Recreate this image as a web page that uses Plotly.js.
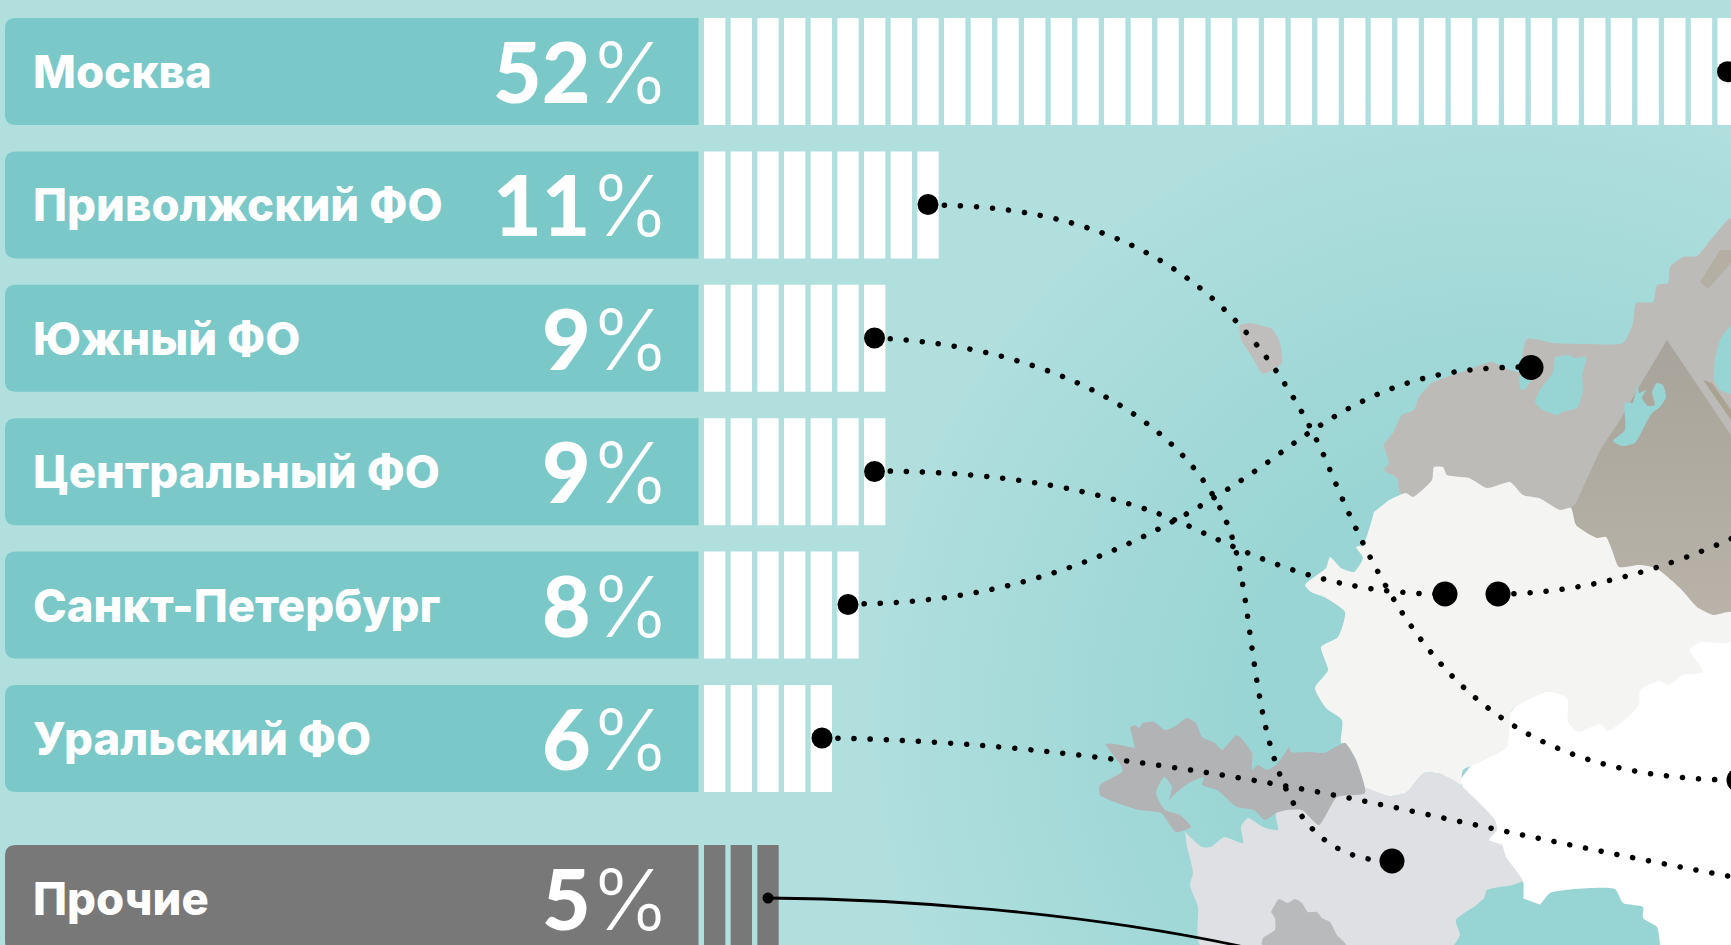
<!DOCTYPE html>
<html lang="ru">
<head>
<meta charset="utf-8">
<title>Распределение по регионам</title>
<script src="https://cdn.plot.ly/plotly-3.0.1.min.js"></script>
<style>
  html, body { margin: 0; padding: 0; width: 1731px; height: 945px; overflow: hidden; }
  body { background: radial-gradient(circle 640px at 1500px 720px, #97d4d3 0%, #99d5d4 40%, #b0dfde 100%) #b0dfde; }
  #chart { width: 1731px; height: 945px; }
  /* dotted leaders: near-zero dashes with round caps become dots */
  .shapelayer path { stroke-linecap: round; }
</style>
</head>
<body>
<div id="chart"></div>
<script>
// Regions and their shares
const regions = ['Москва', 'Приволжский ФО', 'Южный ФО', 'Центральный ФО', 'Санкт-Петербург', 'Уральский ФО', 'Прочие'];
const shares = [52, 11, 9, 9, 8, 6, 5];
const stripeCounts = [42, 9, 7, 7, 6, 5, 3];

// Vertical slot of each row, in row pitches
const rowSlots = [0, 1, 2, 3, 4, 5, 6.2];

// Map outlines, as [x, y] in map units
const mapNorthWest = [[1413,497],[1400,493],[1397,478],[1384,470],[1389,463],[1384,445],[1393,433],[1402,415],[1414,410],[1419,397],[1432,383],[1462,372],[1491,362],[1505,368],[1518,372],[1527,339],[1553,343],[1587,344],[1623,343],[1633,323],[1636,303],[1653,302],[1657,285],[1668,283],[1670,267],[1683,257],[1697,256],[1713,237],[1731,218],[1731,640],[1413,640]];
const mapNorthEast = [[1667,340],[1731,435],[1731,640],[1600,640],[1571,508],[1576,503],[1600,450],[1620,420],[1640,385]];
const mapFoldUpper = [[1700,282],[1708,289],[1731,263],[1731,250],[1720,250]];
const mapFoldLower = [[1703,380],[1712,383],[1731,410],[1731,420]];
const mapCentral = [[1389,500],[1406,493],[1413,497],[1432,480],[1434,467],[1443,467],[1447,475],[1469,478],[1487,488],[1510,482],[1523,495],[1539,498],[1560,510],[1571,508],[1576,525],[1597,538],[1606,537],[1612,550],[1619,567],[1639,565],[1656,568],[1680,588],[1697,607],[1713,615],[1731,612],[1731,642],[1700,642],[1690,650],[1703,672],[1683,675],[1668,685],[1660,681],[1640,690],[1639,705],[1628,717],[1608,731],[1600,724],[1578,732],[1568,722],[1567,698],[1547,692],[1512,710],[1507,747],[1480,762],[1463,770],[1460,787],[1441,774],[1424,773],[1406,793],[1389,796],[1365,788],[1356,760],[1345,743],[1341,743],[1342,720],[1326,708],[1315,688],[1328,670],[1321,647],[1338,637],[1345,612],[1324,597],[1311,592],[1305,585],[1326,568],[1330,557],[1341,568],[1354,572],[1363,558],[1356,547],[1363,545],[1374,512]];
const mapVolga = [[1460,780],[1520,700],[1731,630],[1731,945],[1650,945],[1500,890],[1480,840]];
const mapSouth = [[1185,832],[1202,847],[1211,847],[1224,837],[1243,843],[1241,827],[1248,818],[1263,827],[1278,830],[1276,813],[1337,797],[1365,788],[1389,796],[1406,793],[1424,773],[1441,774],[1458,783],[1495,820],[1497,830],[1489,840],[1502,845],[1506,857],[1523,882],[1489,890],[1484,900],[1456,920],[1460,935],[1454,945],[1200,945],[1198,907],[1190,885],[1193,873],[1187,847]];
const mapCrimea = [[1130,727],[1135,725],[1139,728],[1143,723],[1154,722],[1165,730],[1174,727],[1187,718],[1196,723],[1202,737],[1215,743],[1222,750],[1237,735],[1252,753],[1252,770],[1258,765],[1267,770],[1276,765],[1285,753],[1289,747],[1291,752],[1311,752],[1324,753],[1345,743],[1356,760],[1365,793],[1337,797],[1319,825],[1302,810],[1287,810],[1276,813],[1265,820],[1254,810],[1237,807],[1217,790],[1202,785],[1204,777],[1189,783],[1176,793],[1169,800],[1172,787],[1164,777],[1156,793],[1165,810],[1180,815],[1191,827],[1176,832],[1161,813],[1139,810],[1117,803],[1100,795],[1100,785],[1122,772],[1122,767],[1106,744],[1135,748]];
const mapCaucasus = [[1271,912],[1279,899],[1288,903],[1295,899],[1302,903],[1308,912],[1317,912],[1322,918],[1330,922],[1337,935],[1346,945],[1262,945],[1263,938],[1275,930],[1275,918]];
const mapEnclave = [[1239,325],[1249,323],[1272,329],[1280,343],[1282,363],[1276,368],[1263,374],[1252,357],[1241,340]];
const mapCaspian = [[1454,945],[1460,935],[1456,920],[1467,913],[1484,898],[1487,890],[1513,885],[1523,882],[1524,903],[1535,910],[1550,893],[1575,889],[1615,889],[1623,903],[1643,907],[1643,918],[1657,927],[1660,945]];
const mapLadoga = [[1555,357],[1570,355],[1573,358],[1586,357],[1582,377],[1583,390],[1577,408],[1562,412],[1558,415],[1543,410],[1535,402],[1540,390],[1553,373]];
const mapOnega = [[1638,383],[1639,393],[1646,390],[1642,398],[1648,406],[1655,405],[1652,392],[1657,383],[1663,385],[1666,397],[1660,407],[1652,413],[1645,425],[1635,443],[1622,446],[1613,441],[1625,430],[1625,403],[1633,403]];
const mapGulf = [[1519,377],[1521,390],[1526,388],[1531,380],[1525,370]];
const mapWhiteSea = [[1731,325],[1720,340],[1715,360],[1714,380],[1720,390],[1731,394]];

// Leader anchors
const anchorBarX = [1727.5, 928, 874.5, 874.5, 848, 822];
const anchorBarY = [71.7, 204.5, 338, 471.5, 604.5, 738];
const anchorMapX = [1445, 1498, 1531, 1392, 1739];
const anchorMapY = [594, 594, 367.5, 861, 780];
const otherAnchorX = [768];
const otherAnchorY = [898];

// Leader routes
const dottedRoutes = [
  'M928,205 C1140,205 1250,300 1322,451 C1400,640 1480,780 1739,780',
  'M874,338 C1050,345 1190,420 1230,531 C1265,630 1240,861 1392,861',
  'M874,471 C1000,471 1110,490 1191,527 C1270,565 1340,594 1445,594',
  'M848,604 C1000,604 1130,560 1271,460 C1370,385 1430,367 1531,367',
  'M822,738 C1000,740 1200,765 1416,812 C1530,837 1640,860 1760,882',
  'M1498,594 C1570,594 1660,575 1760,525'
];
const solidRoutes = ['M768,898 C900,899 1080,912 1240,946'];

// Row and stripe geometry
const W = 1731, H = 945;
const rowPitch = 133.4, rowHeight = 107, firstRowCentre = 71.5;
const stripeStart = 704, stripeStep = 26.67, stripeFill = 0.8;
const blockLeft = 5, blockRight = 698.5, cornerR = 11;
const centreOf = i => firstRowCentre + rowPitch * rowSlots[i];

// Fill colour per outline
function area(points, color, extra) {
  return Object.assign({
    type: 'scatter', mode: 'lines', hoverinfo: 'skip', showlegend: false,
    x: points.map(p => p[0]), y: points.map(p => p[1]),
    fill: 'toself', fillcolor: color,
    line: { width: 0, shape: 'spline', smoothing: 0.55 }
  }, extra || {});
}

// Stripes: each one is a short horizontal bar on a stripe-number axis
function stripeTrace(rows, color) {
  const base = [], y = [], x = [];
  rows.forEach(r => {
    for (let k = 0; k < stripeCounts[r]; k++) {
      base.push(k); y.push(rowSlots[r]); x.push(stripeFill);
    }
  });
  return {
    type: 'bar', orientation: 'h', xaxis: 'x2', yaxis: 'y2',
    x: x, y: y, base: base, width: rowHeight / rowPitch,
    marker: { color: color, line: { width: 0 } },
    hoverinfo: 'skip', showlegend: false
  };
}

// Round anchors sit on a third axis pair so they stay above the stripes
function anchors(x, y, size) {
  return { type: 'scatter', mode: 'markers', xaxis: 'x3', yaxis: 'y3', x: x, y: y,
    hoverinfo: 'skip', showlegend: false, cliponaxis: true,
    marker: { color: '#000', size: size, line: { width: 0 } } };
}

const sea = '#97d5d4';
const traces = [
  area(mapEnclave, '#c0bebc'),
  area(mapNorthWest, '#bdbbb8'),
  area(mapNorthEast, '#b7b1a7', { line: { width: 0 },
    fillgradient: { type: 'vertical', colorscale: [[0, '#bab4aa'], [0.55, '#b0aba0'], [1, '#a8a49b']] } }),
  area(mapFoldUpper, '#b5afa3', { line: { width: 0 } }),
  area(mapFoldLower, '#a9a391', { line: { width: 0 } }),
  area(mapVolga, '#ffffff', { line: { width: 0 } }),
  area(mapCentral, '#f4f4f2'),
  area(mapSouth, '#dfe0e3'),
  area(mapCrimea, '#b2b3b5'),
  area(mapCaucasus, '#b9babc'),
  area(mapCaspian, sea),
  area(mapLadoga, sea),
  area(mapOnega, sea),
  area(mapGulf, sea),
  area(mapWhiteSea, sea),
  stripeTrace([0, 1, 2, 3, 4, 5], '#ffffff'),
  stripeTrace([6], '#787878'),
  anchors(anchorBarX, anchorBarY, 21),
  anchors(anchorMapX, anchorMapY, 25),
  anchors(otherAnchorX, otherAnchorY, 11)
];

// Rounded-left label blocks and the leader lines
const blocks = regions.map((_, i) => {
  const top = centreOf(i) - rowHeight / 2, bottom = top + rowHeight;
  return {
    type: 'path', layer: 'below', xref: 'x', yref: 'y',
    path: `M${blockRight},${top} L${blockLeft + cornerR},${top} Q${blockLeft},${top} ${blockLeft},${top + cornerR} ` +
          `L${blockLeft},${bottom - cornerR} Q${blockLeft},${bottom} ${blockLeft + cornerR},${bottom} L${blockRight},${bottom} Z`,
    fillcolor: i === 6 ? '#787878' : '#7ac8c8', line: { width: 0 }
  };
});
const leaders = dottedRoutes.map(p => ({
  type: 'path', layer: 'above', xref: 'x', yref: 'y', path: p,
  line: { color: '#000', width: 5.5, dash: '0.1px,16px' }
})).concat(solidRoutes.map(p => ({
  type: 'path', layer: 'above', xref: 'x', yref: 'y', path: p,
  line: { color: '#000', width: 2.8 }
})));

// Region names and share figures
const nameFont = { family: 'Inter, "Noto Sans", sans-serif', size: 45.5, color: '#ffffff', weight: 800 };
const shareFont = { family: 'Lato, "Noto Sans", sans-serif', size: 84, color: '#ffffff' };
const annotations = [];
regions.forEach((name, i) => {
  annotations.push({
    xref: 'x', yref: 'y', x: 31, y: centreOf(i), xanchor: 'left', yanchor: 'middle',
    showarrow: false, text: name, font: nameFont
  });
  annotations.push({
    xref: 'x', yref: 'y', x: 671, y: centreOf(i), xanchor: 'right', yanchor: 'middle',
    showarrow: false, font: shareFont,
    text: `<span style="font-weight:900">${shares[i]}</span><span style="font-family:Inter;font-weight:300">%</span>`
  });
});

const pixelAxis = (range) => ({ range: range, visible: false, fixedrange: true });
const layout = {
  width: W, height: H,
  margin: { l: 0, r: 0, t: 0, b: 0, pad: 0 },
  paper_bgcolor: 'rgba(0,0,0,0)', plot_bgcolor: 'rgba(0,0,0,0)',
  showlegend: false, barmode: 'overlay',
  xaxis: pixelAxis([0, W]),
  yaxis: pixelAxis([H, 0]),
  xaxis2: Object.assign(pixelAxis([-stripeStart / stripeStep, (W - stripeStart) / stripeStep]), { overlaying: 'x', anchor: 'y2' }),
  yaxis2: Object.assign(pixelAxis([(H - firstRowCentre) / rowPitch, -firstRowCentre / rowPitch]), { overlaying: 'y', anchor: 'x2' }),
  xaxis3: Object.assign(pixelAxis([0, W]), { overlaying: 'x', anchor: 'y3' }),
  yaxis3: Object.assign(pixelAxis([H, 0]), { overlaying: 'y', anchor: 'x3' }),
  shapes: blocks.concat(leaders),
  annotations: annotations
};

Plotly.newPlot('chart', traces, layout, { displayModeBar: false, staticPlot: true });
</script>
</body>
</html>
